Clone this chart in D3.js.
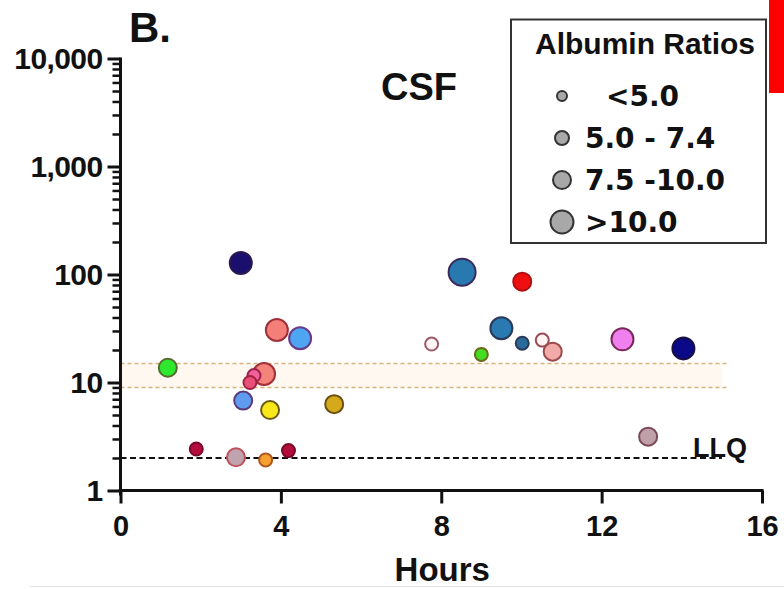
<!DOCTYPE html>
<html>
<head>
<meta charset="utf-8">
<script src="https://cdn.jsdelivr.net/npm/d3@7"></script>
<style>
  html, body { margin: 0; padding: 0; background: #fff; }
  svg { display: block; font-family: "Liberation Sans", Arial, sans-serif; font-weight: bold; }
</style>
</head>
<body>
<svg id="chart" width="784" height="589"></svg>
<script>
// CSF concentrations over time, sized by albumin ratio class
const hours = [3.0, 3.9, 4.48, 1.18, 3.58, 3.33, 3.23, 3.06, 3.73, 5.33, 1.89, 2.88, 3.62, 4.19,
               8.52, 10.02, 9.5, 7.76, 10.02, 9.0, 10.52, 10.78, 12.52, 14.04, 13.16];
const conc = [128, 30.6, 25.7, 13.7, 12.0, 11.6, 10.0, 6.8, 5.56, 6.3, 2.42, 2.03, 1.92, 2.34,
              105, 85.8, 31.8, 22.7, 23.1, 18.2, 24.7, 19.3, 25.1, 20.7, 3.15];
// albumin ratio class: 0 "<5.0", 1 "5.0 - 7.4", 2 "7.5 -10.0", 3 ">10.0"
const ratioClass = [2, 2, 2, 1, 2, 0, 0, 1, 1, 1, 0, 1, 0, 0,
                    3, 1, 2, 0, 0, 0, 0, 1, 2, 2, 1];
const fills = ["#1b0f6e", "#f47f78", "#4ea6f2", "#2ee82e", "#f4837a", "#f0609a", "#e8507a", "#5f9cf0",
               "#f8e81a", "#d4aa1c", "#b40c3c", "#bfa4b0", "#f6a030", "#b40c3c",
               "#2779b0", "#ee1010", "#2a7ab2", "#fff4f4", "#2a6a9a", "#44dd22", "#fff4f4",
               "#f2aaa8", "#f080f0", "#0a0a88", "#c0a0a8"];
const strokes = ["#2a1850", "#a0303a", "#6a3a8a", "#556b2f", "#a0303a", "#a02050", "#a02040", "#5a3a7a",
                 "#6a5a1a", "#6a5010", "#7a0a2a", "#c0505a", "#b05a20", "#7a0a2a",
                 "#3a2a5a", "#b01010", "#2a3a5a", "#9a5a6a", "#2a3a5a", "#6a6a1a", "#9a4a5a",
                 "#9a4a4a", "#7a2a5a", "#1a1040", "#7a4a5a"];

const xTicks = [0, 4, 8, 12, 16];
const yMajor = [1, 10, 100, 1000, 10000];
const legendLabels = ["<5.0", "5.0 - 7.4", "7.5 -10.0", ">10.0"];
const llq = 2;             // lower limit of quantitation
const band = [9, 15];      // reference range
const refEnd = 15;         // reference lines span 0..15 h

const svg = d3.select("#chart");

const x = d3.scaleLinear().domain([0, 16]).range([120.5, 762]);
const y = d3.scaleLog().domain([1, 10000]).range([490.5, 58.5]);
const r = d3.scaleOrdinal().domain([0, 1, 2, 3]).range([6.5, 9, 11, 13.5]);
const rLegend = d3.scaleOrdinal().domain([0, 1, 2, 3]).range([5, 7, 9, 11.5]);

// faint frame line at the bottom
svg.append("line").attr("x1", 30).attr("x2", 784).attr("y1", 586.5).attr("y2", 586.5)
  .attr("stroke", "#e2e2e2").attr("stroke-width", 1);

// reference band
svg.append("rect")
  .attr("x", x(0)).attr("width", x(refEnd) - x(0))
  .attr("y", y(band[1])).attr("height", y(band[0]) - y(band[1]))
  .attr("fill", "#fef8f1");
band.forEach(v => {
  svg.append("line")
    .attr("x1", x(0)).attr("x2", x(refEnd) + 6)
    .attr("y1", y(v)).attr("y2", y(v))
    .attr("stroke", "#d9b27a").attr("stroke-width", 1.4)
    .attr("stroke-dasharray", "4,3");
});

// LLQ line
svg.append("line")
  .attr("x1", x(0)).attr("x2", x(refEnd))
  .attr("y1", y(llq)).attr("y2", y(llq))
  .attr("stroke", "#111").attr("stroke-width", 2)
  .attr("stroke-dasharray", "6,3.5");
svg.append("text").attr("x", 693).attr("y", y(llq) - 1)
  .attr("font-size", 27).attr("fill", "#111").text("LLQ");

// points
const pts = hours.map((h, i) => ({ h, v: conc[i], c: ratioClass[i], f: fills[i], s: strokes[i] }));
svg.append("g").selectAll("circle").data(pts).join("circle")
  .attr("cx", d => x(d.h)).attr("cy", d => y(d.v)).attr("r", d => r(d.c))
  .attr("fill", d => d.f).attr("stroke", d => d.s).attr("stroke-width", 2);

// y axis
const yAxis = svg.append("g").attr("transform", `translate(${x(0)},0)`)
  .call(d3.axisLeft(y).tickValues(yMajor).tickSize(13).tickPadding(5).tickFormat(d3.format(",")));
yAxis.select(".domain").remove();
yAxis.selectAll(".tick line").attr("stroke", "#111").attr("stroke-width", 3);
yAxis.selectAll(".tick text").attr("font-size", 30).attr("fill", "#111")
  .attr("font-family", "Liberation Sans, Arial, sans-serif").attr("font-weight", "bold")
  .attr("letter-spacing", -0.6);

const minor = [];
yMajor.slice(0, -1).forEach(m => { for (let k = 2; k <= 9; k++) minor.push(m * k); });
const yMinor = svg.append("g").attr("transform", `translate(${x(0)},0)`)
  .call(d3.axisLeft(y).tickValues(minor).tickSize(8).tickFormat(""));
yMinor.select(".domain").remove();
yMinor.selectAll(".tick line").attr("stroke", "#111").attr("stroke-width", 2.5);

svg.append("line").attr("x1", x(0)).attr("x2", x(0)).attr("y1", y(10000) - 1).attr("y2", y(1) + 5)
  .attr("stroke", "#111").attr("stroke-width", 3);

// x axis
const xAxis = svg.append("g").attr("transform", `translate(0,${y(1)})`)
  .call(d3.axisBottom(x).tickValues(xTicks).tickSize(13).tickPadding(12));
xAxis.select(".domain").remove();
xAxis.selectAll(".tick line").attr("stroke", "#111").attr("stroke-width", 3);
xAxis.selectAll(".tick text").attr("font-size", 29).attr("fill", "#111")
  .attr("font-family", "Liberation Sans, Arial, sans-serif").attr("font-weight", "bold");
svg.append("line").attr("x1", x(0) - 2).attr("x2", x(16) + 1.5).attr("y1", y(1)).attr("y2", y(1))
  .attr("stroke", "#111").attr("stroke-width", 3);

svg.append("text").attr("x", (x(0) + x(16)) / 2 + 1).attr("y", 581)
  .attr("text-anchor", "middle").attr("font-size", 33).attr("fill", "#111").text("Hours");

// panel letter and title
svg.append("text").attr("x", 129).attr("y", 42).attr("font-size", 42).attr("fill", "#111").text("B.");
svg.append("text").attr("x", 381).attr("y", 100).attr("font-size", 38).attr("fill", "#111").text("CSF");

// legend
const lg = svg.append("g");
lg.append("rect").attr("x", 511).attr("y", 19.5).attr("width", 255).attr("height", 223.5)
  .attr("fill", "#fff").attr("stroke", "#333").attr("stroke-width", 2);
lg.append("text").attr("x", 535).attr("y", 54).attr("font-size", 30).attr("fill", "#111")
  .text("Albumin Ratios");
const rowY = [96, 138, 180, 222];
const labelX = [606, 585, 585, 585];
legendLabels.forEach((t, i) => {
  lg.append("circle").attr("cx", 562).attr("cy", rowY[i]).attr("r", rLegend(i))
    .attr("fill", "#a8a8a8").attr("stroke", "#333").attr("stroke-width", 2);
  lg.append("text").attr("x", labelX[i]).attr("y", rowY[i] + 10)
    .attr("font-family", "DejaVu Sans, sans-serif")
    .attr("font-size", 28).attr("fill", "#111").text(t);
});

// red marker block
svg.append("rect").attr("x", 769).attr("y", 0).attr("width", 15).attr("height", 93).attr("fill", "#ff0000");
</script>
</body>
</html>
